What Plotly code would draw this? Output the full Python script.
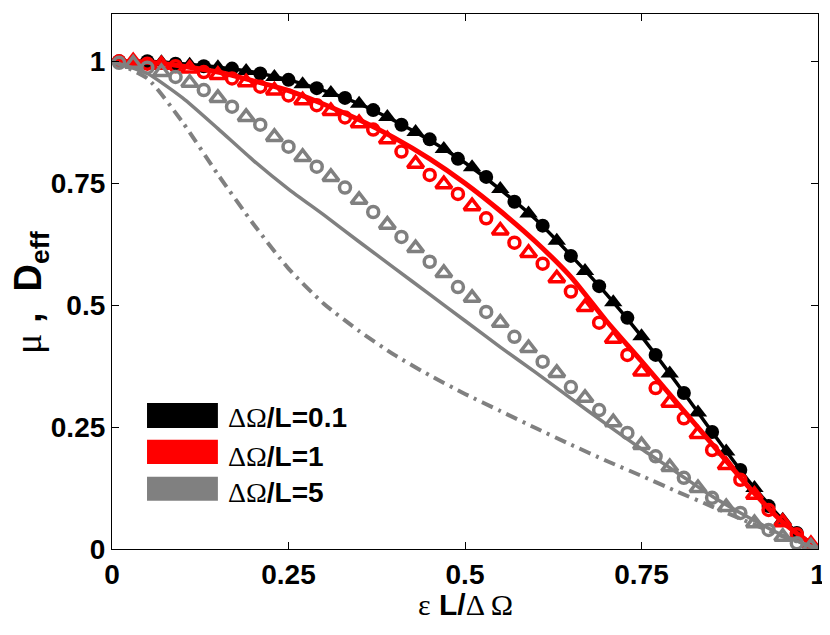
import plotly.graph_objects as go

# ---------------------------------------------------------------
# Data (x = eps L / dOmega)
# ---------------------------------------------------------------
x_circ = [0.01, 0.05, 0.09, 0.13, 0.17, 0.21, 0.25, 0.29, 0.33, 0.37, 0.41, 0.45, 0.49,
          0.53, 0.57, 0.61, 0.65, 0.69, 0.73, 0.77, 0.81, 0.85, 0.89, 0.93, 0.97]
x_tri = [0.03, 0.07, 0.11, 0.15, 0.19, 0.23, 0.27, 0.31, 0.35, 0.39, 0.43, 0.47, 0.51,
         0.55, 0.59, 0.63, 0.67, 0.71, 0.75, 0.79, 0.83, 0.87, 0.91, 0.95, 0.99]
x_line = [0.0, 0.05, 0.1, 0.15, 0.2, 0.25, 0.3, 0.35, 0.4, 0.45, 0.5,
          0.55, 0.6, 0.65, 0.7, 0.75, 0.8, 0.85, 0.9, 0.95, 1.0]

# dOmega/L = 0.1
black_circ = [1.0, 1.0, 0.995, 0.99, 0.985, 0.975, 0.962, 0.945, 0.925, 0.90, 0.87, 0.84, 0.80,
              0.763, 0.712, 0.663, 0.601, 0.539, 0.474, 0.398, 0.320, 0.240, 0.162, 0.088, 0.033]
black_tri = [1.0, 0.998, 0.993, 0.988, 0.98, 0.968, 0.953, 0.935, 0.913, 0.886, 0.855, 0.82, 0.783,
             0.738, 0.688, 0.632, 0.57, 0.506, 0.436, 0.36, 0.28, 0.20, 0.125, 0.06, 0.01]
black_line = [1.0, 1.0, 0.995, 0.988, 0.978, 0.962, 0.94, 0.913, 0.878, 0.838, 0.792,
              0.737, 0.676, 0.602, 0.523, 0.436, 0.34, 0.24, 0.143, 0.06, 0.0]

# dOmega/L = 1
red_circ = [1.0, 0.995, 0.99, 0.978, 0.965, 0.948, 0.93, 0.91, 0.885, 0.86, 0.815, 0.767, 0.728,
            0.678, 0.628, 0.585, 0.528, 0.464, 0.398, 0.330, 0.268, 0.203, 0.142, 0.080, 0.030]
red_tri = [1.0, 0.993, 0.985, 0.972, 0.957, 0.94, 0.92, 0.898, 0.873, 0.84, 0.79, 0.748, 0.703,
           0.653, 0.607, 0.555, 0.496, 0.431, 0.364, 0.30, 0.236, 0.172, 0.111, 0.055, 0.01]
red_line = [1.0, 0.998, 0.99, 0.978, 0.96, 0.94, 0.912, 0.88, 0.843, 0.8, 0.75,
            0.693, 0.63, 0.558, 0.468, 0.385, 0.30, 0.215, 0.13, 0.055, 0.0]

# dOmega/L = 5
gray_circ = [0.997, 0.987, 0.968, 0.941, 0.907, 0.87, 0.825, 0.784, 0.741, 0.691, 0.64, 0.589, 0.537,
             0.486, 0.435, 0.384, 0.332, 0.285, 0.238, 0.19, 0.146, 0.105, 0.074, 0.039, 0.012]
gray_tri = [0.995, 0.978, 0.956, 0.925, 0.886, 0.845, 0.804, 0.763, 0.716, 0.665, 0.617, 0.566, 0.515,
            0.464, 0.412, 0.361, 0.31, 0.26, 0.213, 0.168, 0.125, 0.086, 0.053, 0.025, 0.005]
gray_line = [1.0, 0.975, 0.925, 0.862, 0.797, 0.738, 0.685, 0.63, 0.576, 0.522, 0.468,
             0.414, 0.362, 0.309, 0.256, 0.205, 0.157, 0.108, 0.066, 0.028, 0.0]
gray_dashdot = [1.0, 0.965, 0.875, 0.768, 0.667, 0.575, 0.503, 0.447, 0.398, 0.356, 0.318,
                0.283, 0.248, 0.214, 0.181, 0.15, 0.118, 0.087, 0.056, 0.026, 0.0]

x_ticks = [0, 0.25, 0.5, 0.75, 1]
x_tick_labels = ["0", "0.25", "0.5", "0.75", "1"]
y_ticks = [0, 0.25, 0.5, 0.75, 1]
y_tick_labels = ["0", "0.25", "0.5", "0.75", "1"]

legend_labels = ["0.1", "1", "5"]

BLACK = "#000000"
RED = "#ff0000"
GRAY = "#808080"

SANS = "Liberation Sans, Arial, sans-serif"
SERIF = "Liberation Serif, DejaVu Serif, serif"


def greek(s):
    return f'<span style="font-family:{SERIF};font-weight:normal">{s}</span>'


def add_curve(fig, y, color, width, dash="solid"):
    fig.add_trace(go.Scatter(x=x_line, y=y, mode="lines",
                             line=dict(color=color, width=width, dash=dash,
                                       shape="spline", smoothing=0.6),
                             showlegend=False))


def add_markers(fig, x, y, symbol, size, color, lw=0):
    fig.add_trace(go.Scatter(x=x, y=y, mode="markers",
                             marker=dict(symbol=symbol, size=size, color=color,
                                         line=dict(width=lw, color=color)),
                             showlegend=False))


fig = go.Figure()

# dOmega/L = 0.1 (black, filled markers)
add_curve(fig, black_line, BLACK, 3.5)
add_markers(fig, x_circ, black_circ, "circle", 14, BLACK)
add_markers(fig, x_tri, black_tri, "triangle-up", 16, BLACK)

# dOmega/L = 1 (red, open markers)
add_curve(fig, red_line, RED, 5)
add_markers(fig, x_circ, red_circ, "circle-open", 11, RED, 3.5)
add_markers(fig, x_tri, red_tri, "triangle-up-open", 14, RED, 3.5)

# dOmega/L = 5 (gray)
add_curve(fig, gray_dashdot, GRAY, 4, "12px,6px,3px,6px")
add_curve(fig, gray_line, GRAY, 3.5)
add_markers(fig, x_circ, gray_circ, "circle-open", 11, GRAY, 3.5)
add_markers(fig, x_tri, gray_tri, "triangle-up-open", 14, GRAY, 3.5)

# -----------------------------
# Hand-drawn legend (wide colour patches)
# -----------------------------
patch_y = [(0.226, 0.273), (0.159, 0.204), (0.090, 0.135)]
text_y = [0.245, 0.172, 0.106]
for label, color, (y0, y1), ty in zip(legend_labels, [BLACK, RED, GRAY], patch_y, text_y):
    fig.add_shape(type="rect", xref="paper", yref="paper",
                  x0=0.0496, x1=0.150, y0=y0, y1=y1,
                  fillcolor=color, line=dict(width=0))
    fig.add_annotation(xref="paper", yref="paper", x=0.162, y=ty,
                       xanchor="left", yanchor="middle", showarrow=False,
                       text=greek("ΔΩ") + f"<b>/L={label}</b>",
                       font=dict(family=SANS, size=28, color="black"))

# axis titles as annotations (keeps the plot margins fixed)
fig.add_annotation(xref="paper", yref="paper", x=-0.115, y=0.48,
                   xanchor="center", yanchor="middle", showarrow=False,
                   textangle=-90,
                   text=greek("μ") + " <b>,  D</b><sub><b>eff</b></sub>",
                   font=dict(family=SANS, size=38, color="black"))
fig.add_annotation(xref="paper", yref="paper", x=0.5, y=-0.103,
                   xanchor="center", yanchor="middle", showarrow=False,
                   text=greek("ε") + " <b>L/</b>" + greek("Δ Ω"),
                   font=dict(family=SANS, size=30, color="black"))

axis_common = dict(
    showline=True, linecolor="black", linewidth=1.2, mirror="ticks",
    ticks="inside", ticklen=7, tickwidth=1.2, tickcolor="black",
    showgrid=False, zeroline=False, automargin=False,
    tickfont=dict(family=SANS, size=28, color="black"),
)

fig.update_xaxes(range=[0, 1], tickvals=x_ticks,
                 ticktext=[f"<b>{t}</b>" for t in x_tick_labels],
                 **axis_common)
fig.update_yaxes(range=[0, 1.097], tickvals=y_ticks,
                 ticktext=[f"<b>{t}</b>" for t in y_tick_labels],
                 **axis_common)

# page body adds an 8px offset, so the figure is placed 8px up/left
fig.update_layout(
    width=822, height=627,
    margin=dict(l=104, r=12, t=6, b=86),
    plot_bgcolor="white", paper_bgcolor="white",
    showlegend=False,
)

fig.write_html("out.html")
